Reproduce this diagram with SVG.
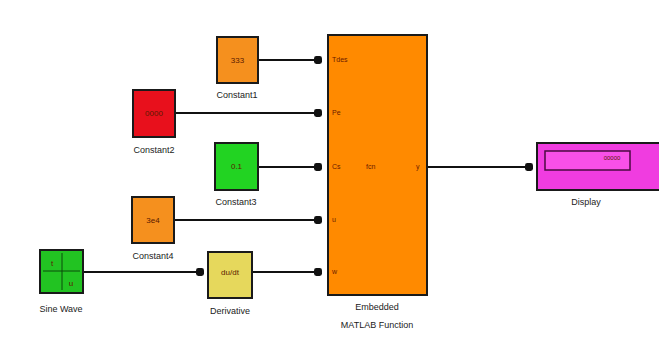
<svg xmlns="http://www.w3.org/2000/svg" width="659" height="341" viewBox="0 0 659 341">
<defs>
<style>
.blk{stroke:#1a1a1a;stroke-width:2}
.lbl{font-family:"Liberation Sans",Arial,sans-serif;font-size:9px;fill:#222;text-anchor:middle}
.val{font-family:"Liberation Sans",Arial,sans-serif;font-size:8px;fill:#5a1a00;text-anchor:middle}
.port{font-family:"Liberation Sans",Arial,sans-serif;font-size:7px;fill:#6a1a00}
.wire{stroke:#111;stroke-width:2;fill:none}
</style>
<marker id="dot" viewBox="0 0 10 10" refX="5" refY="5" markerWidth="4" markerHeight="4" orient="auto">
<rect x="0" y="0" width="10" height="10" rx="3" fill="#111"/>
</marker>
</defs>
<rect width="659" height="341" fill="#ffffff"/>
<g id="connectors">
<line class="wire" x1="258" y1="60" x2="318" y2="60" marker-end="url(#dot)"/>
<line class="wire" x1="175" y1="113" x2="318" y2="113" marker-end="url(#dot)"/>
<line class="wire" x1="258" y1="167" x2="318" y2="167" marker-end="url(#dot)"/>
<line class="wire" x1="174" y1="220" x2="318" y2="220" marker-end="url(#dot)"/>
<line class="wire" x1="83" y1="272" x2="200" y2="272" marker-end="url(#dot)"/>
<line class="wire" x1="252" y1="272" x2="318" y2="272" marker-end="url(#dot)"/>
<line class="wire" x1="427" y1="167" x2="529" y2="167" marker-end="url(#dot)"/>
</g>
<g id="constant1">
<rect class="blk" x="217" y="37" width="41" height="46" fill="#f5901e"/>
<text class="val" x="237.5" y="63">333</text>
<text class="lbl" x="237" y="98">Constant1</text>
</g>
<g id="constant2">
<rect class="blk" x="133" y="90" width="42" height="47" fill="#e8101c"/>
<text class="val" x="154" y="116">0000</text>
<text class="lbl" x="154" y="153">Constant2</text>
</g>
<g id="constant3">
<rect class="blk" x="215" y="143" width="43" height="47" fill="#22d322"/>
<text class="val" x="236.5" y="169" fill="#103010">0.1</text>
<text class="lbl" x="236" y="205">Constant3</text>
</g>
<g id="constant4">
<rect class="blk" x="132" y="197" width="42" height="46" fill="#f5901e"/>
<text class="val" x="153" y="223">3e4</text>
<text class="lbl" x="153" y="259">Constant4</text>
</g>
<g id="sinewave">
<rect class="blk" x="40" y="250" width="43" height="43" fill="#22c322"/>
<line x1="62" y1="253" x2="62" y2="290" stroke="#0a4a0a" stroke-width="1"/>
<line x1="43" y1="271" x2="80" y2="271" stroke="#0a4a0a" stroke-width="1"/>
<text class="val" x="52" y="266" fill="#0a3a0a">t</text>
<text class="val" x="71" y="286" fill="#0a3a0a">u</text>
<text class="lbl" x="61" y="312">Sine Wave</text>
</g>
<g id="derivative">
<rect class="blk" x="208" y="252" width="44" height="46" fill="#e6d85c"/>
<text class="val" x="230" y="275" fill="#3a2a00">du/dt</text>
<text class="lbl" x="230" y="314">Derivative</text>
</g>
<g id="embedded">
<rect class="blk" x="328" y="35" width="99" height="260" fill="#ff8a00"/>
<text class="port" x="332" y="62">Tdes</text>
<text class="port" x="332" y="115">Pe</text>
<text class="port" x="332" y="169">Cs</text>
<text class="port" x="332" y="222">u</text>
<text class="port" x="332" y="274">w</text>
<text class="port" x="366" y="169">fcn</text>
<text class="port" x="416" y="169">y</text>
<text class="lbl" x="377" y="310">Embedded</text>
<text class="lbl" x="377" y="328">MATLAB Function</text>
</g>
<g id="display">
<rect class="blk" x="537" y="143" width="124" height="47" fill="#f03ce0"/>
<rect x="545" y="151" width="85" height="19" fill="#f850e8" stroke="#4a0a40" stroke-width="1.5"/>
<text class="val" x="612" y="160" fill="#4a0a40" style="font-size:6px">00000</text>
<text class="lbl" x="586" y="205">Display</text>
</g>
</svg>
